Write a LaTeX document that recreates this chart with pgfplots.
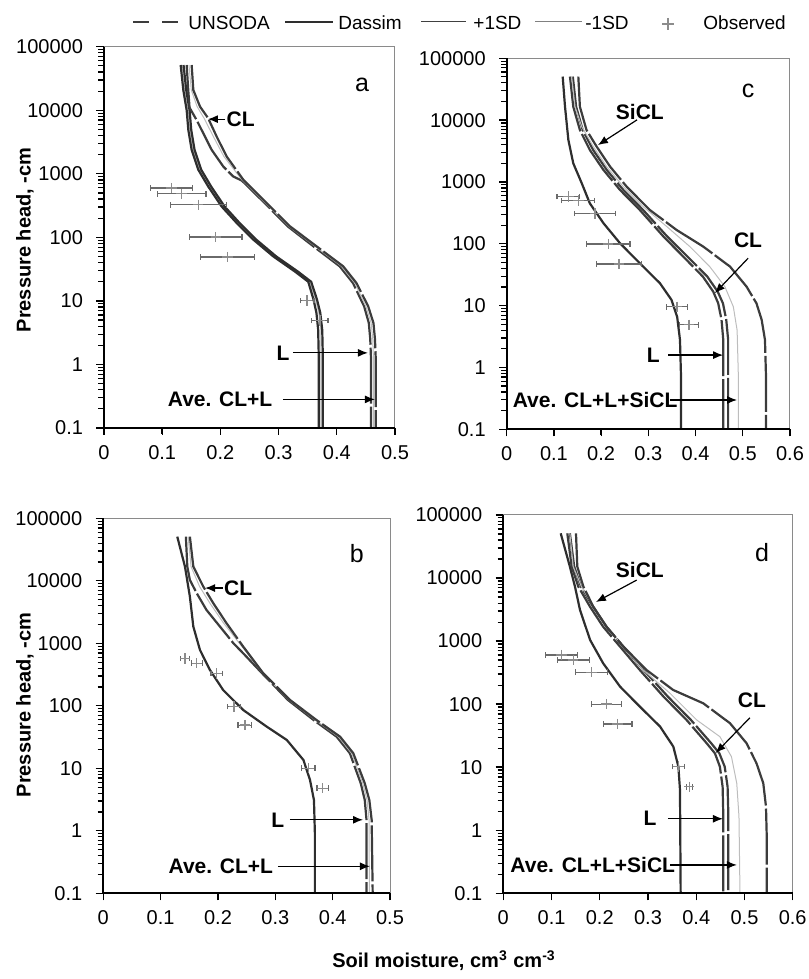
\documentclass[border=0pt]{standalone}
\usepackage{fontspec}
\setmainfont{Liberation Sans}
\usepackage{pgfplots}
\pgfplotsset{compat=1.18}
\usetikzlibrary{arrows.meta}

\definecolor{unsc}{HTML}{3C3C3C}
\definecolor{dasc}{HTML}{2E2E2E}
\definecolor{sdc}{HTML}{BDBDBD}
\definecolor{obsc}{HTML}{8C8C8C}
\definecolor{errc}{HTML}{6A6A6A}
\definecolor{framec}{HTML}{8A8A8A}

\tikzset{
  annlab/.style={font=\bfseries\fontsize{10.5}{12}\selectfont, inner sep=0pt},
  annar/.style={-{Latex[length=5pt,width=4pt]}, line width=0.6pt, black},
  annlet/.style={font=\fontsize{12.5}{14}\selectfont, inner sep=0pt},
}

\pgfplotsset{
  myhalf/.style={xmax=0.5, xtick={0,0.1,0.2,0.3,0.4,0.5},
    xticklabels={0,0.1,0.2,0.3,0.4,0.5}},
  mysix/.style={xmax=0.6, xtick={0,0.1,0.2,0.3,0.4,0.5,0.6},
    xticklabels={0,0.1,0.2,0.3,0.4,0.5,0.6}},
  lineuns/.style={unsc, line width=1.1pt, dash pattern=on 28pt off 1.5pt, mark=none},
  linedas/.style={dasc, line width=1.1pt, mark=none},
  linesd/.style={sdc, line width=0.5pt, mark=none},
  obsmarks/.style={only marks, mark=+, mark size=2.6pt, obsc,
    mark options={line width=0.7pt},
    error bars/x dir=both, error bars/x explicit,
    error bars/error bar style={errc, line width=0.6pt},
    error bars/error mark options={errc, mark size=1.4pt, line width=0.6pt, rotate=90}},
  every axis/.append style={
    scale only axis, xmin=0, ymin=0.1, ymax=100000,
    ytick={0.1,1,10,100,1000,10000,100000},
    yticklabels={0.1,1,10,100,1000,10000,100000},
    tick align=outside, xtick pos=bottom, ytick pos=left,
    major tick length=3.5pt,
    tick style={black, line width=0.6pt},
    axis line style={draw=none},
    ticklabel style={font=\fontsize{10}{12}\selectfont},
    yticklabel style={xshift=-3.5pt},
    xticklabel style={yshift=-1.5pt},
    clip=false,
  },
}

% frame: thin grey top/right, black left/bottom, with the tick marks
\newcommand{\panelframe}[1]{%
  \draw[framec, line width=0.5pt] (rel axis cs:0,1) -- (rel axis cs:1,1) -- (rel axis cs:1,0);
  \draw[black, line width=1pt] (rel axis cs:0,1) -- (rel axis cs:0,0) -- (rel axis cs:1,0);
  \pgfplotsinvokeforeach{0.2,0.3,0.4,0.5,0.6,0.7,0.8,0.9,2,3,4,5,6,7,8,9,20,30,40,50,60,70,80,90,200,300,400,500,600,700,800,900,2000,3000,4000,5000,6000,7000,8000,9000,20000,30000,40000,50000,60000,70000,80000,90000}{%
    \draw[black, line width=0.5pt] ([xshift=-2.4pt]axis cs:0,##1) -- (axis cs:0,##1);}
  \pgfplotsinvokeforeach{0.1,1,10,100,1000,10000,100000}{%
    \draw[black, line width=0.7pt] ([xshift=-3.8pt]axis cs:0,##1) -- (axis cs:0,##1);}
  \pgfplotsinvokeforeach{#1}{%
    \draw[black, line width=0.7pt] ([yshift=-3pt]axis cs:##1,0.1) -- (axis cs:##1,0.1);}}

\begin{document}
\begin{tikzpicture}
\useasboundingbox (0,0) rectangle (404pt,489.5pt);

% ---- panel a
\begin{semilogyaxis}[myhalf, anchor=south west, at={(52pt,275.5pt)}, width=145.5pt, height=190.65pt]
\addplot[linesd] coordinates {(0.1342,51500) (0.1388,20800) (0.1445,10100) (0.1474,4900) (0.1531,2380) (0.1645,1160) (0.1815,633) (0.2045,307) (0.2305,168) (0.2591,92) (0.2935,50) (0.3305,29) (0.3535,20) (0.3635,10.5) (0.3691,6.5) (0.3725,3.5) (0.3725,1.35) (0.3725,0.1)};
\addplot[linedas] coordinates {(0.1317,51500) (0.1363,20800) (0.142,10100) (0.1449,4900) (0.1506,2380) (0.162,1160) (0.179,633) (0.202,307) (0.228,168) (0.2566,92) (0.291,50) (0.328,29) (0.351,20) (0.360,10.5) (0.365,6.5) (0.368,3.5) (0.369,1.35) (0.369,0.1)};
\addplot[linedas] coordinates {(0.1367,51500) (0.1413,20800) (0.147,10100) (0.1499,4900) (0.1556,2380) (0.167,1160) (0.184,633) (0.207,307) (0.233,168) (0.2616,92) (0.296,50) (0.333,29) (0.356,20) (0.366,10.5) (0.3716,6.5) (0.375,3.5) (0.376,1.35) (0.376,0.1)};
\addplot[lineuns] coordinates {(0.142,51500) (0.1449,20000) (0.147,11000) (0.159,7050) (0.1735,3850) (0.185,2380) (0.205,1300) (0.222,908) (0.237,780) (0.277,340) (0.316,148) (0.36,72) (0.405,35) (0.428,19) (0.447,8.2) (0.455,4.5) (0.4575,2.5) (0.4588,1.2) (0.4588,0.1)};
\addplot[linesd] coordinates {(0.146,51500) (0.150,20800) (0.160,11400) (0.172,7480) (0.188,3850) (0.206,1870) (0.237,805) (0.278,343) (0.318,148) (0.363,72) (0.408,35) (0.431,19) (0.450,8.2) (0.459,4.5) (0.4618,2.5) (0.463,1.2) (0.463,0.1)};
\addplot[lineuns] coordinates {(0.1506,51500) (0.1535,20800) (0.165,11400) (0.179,7480) (0.1936,3850) (0.2108,1870) (0.2394,805) (0.2795,346) (0.3196,149) (0.3654,72) (0.411,35) (0.434,19) (0.454,8.2) (0.463,4.5) (0.4656,2.5) (0.467,1.2) (0.467,0.1)};
\addplot[obsmarks] coordinates {(0.1163,596) +- (0.036,0) (0.1334,486) +- (0.042,0) (0.162,326) +- (0.048,0) (0.192,101) +- (0.045,0) (0.212,49) +- (0.046,0) (0.349,10.1) +- (0.012,0) (0.371,4.9) +- (0.014,0)};
\panelframe{0,0.1,0.2,0.3,0.4,0.5}
\node[annlet] at (rel axis cs:0.887,0.9) {a};
\draw[annar] (rel axis cs:0.416,0.81) -- (rel axis cs:0.357,0.81);
\node[annlab, anchor=west] at (rel axis cs:0.42,0.81) {CL};
\node[annlab] at (rel axis cs:0.615,0.197) {L};
\draw[annar] (rel axis cs:0.649,0.197) -- (rel axis cs:0.907,0.197);
\node[annlab] at (rel axis cs:0.399,0.075) {Ave. CL+L};
\draw[annar] (rel axis cs:0.615,0.075) -- (rel axis cs:0.931,0.075);
\end{semilogyaxis}

% ---- panel c
\begin{semilogyaxis}[mysix, anchor=south west, at={(253.35pt,274.85pt)}, width=141.65pt, height=185.5pt]
\addplot[linedas] coordinates {(0.1186,50600) (0.1235,16500) (0.1306,4780) (0.141,2000) (0.159,951) (0.176,452) (0.205,215) (0.24,102) (0.282,48.4) (0.3246,23) (0.349,12.4) (0.361,6.6) (0.367,2.8) (0.369,0.8) (0.369,0.1)};
\addplot[lineuns] coordinates {(0.134,50600) (0.141,16500) (0.155,6930) (0.176,3300) (0.205,1560) (0.24,743) (0.282,352) (0.332,131) (0.374,62) (0.4156,29.4) (0.4375,16.8) (0.448,10.9) (0.455,5.9) (0.4587,2.8) (0.4587,0.1)};
\addplot[lineuns] coordinates {(0.140,50600) (0.147,16500) (0.161,6930) (0.183,3300) (0.212,1560) (0.247,743) (0.289,352) (0.34,131) (0.383,62) (0.425,29.4) (0.447,16.8) (0.458,10.9) (0.465,5.9) (0.469,2.8) (0.469,0.1)};
\addplot[linesd] coordinates {(0.1376,50600) (0.1447,16500) (0.159,7850) (0.1835,3730) (0.2117,1770) (0.247,841) (0.289,399) (0.339,190) (0.388,90) (0.43,42.8) (0.462,20.3) (0.48,9.6) (0.488,4.0) (0.4905,0.8) (0.4905,0.1)};
\addplot[lineuns] coordinates {(0.1517,50600) (0.155,16500) (0.169,6930) (0.1905,3730) (0.219,1770) (0.254,841) (0.303,353) (0.36,167) (0.4164,90) (0.473,42.8) (0.508,20.3) (0.529,10.9) (0.54,5.9) (0.547,2.8) (0.549,0.8) (0.549,0.1)};
\addplot[obsmarks] coordinates {(0.1306,579) +- (0.024,0) (0.1517,499) +- (0.035,0) (0.187,311) +- (0.043,0) (0.215,99) +- (0.046,0) (0.2378,47) +- (0.047,0) (0.361,9.6) +- (0.022,0) (0.386,4.9) +- (0.02,0)};
\panelframe{0,0.1,0.2,0.3,0.4,0.5,0.6}
\node[annlet] at (rel axis cs:0.852,0.912) {c};
\node[annlab] at (rel axis cs:0.47,0.855) {SiCL};
\draw[annar] (rel axis cs:0.46,0.834) -- (rel axis cs:0.322,0.766);
\node[annlab] at (rel axis cs:0.852,0.51) {CL};
\draw[annar] (rel axis cs:0.852,0.461) -- (rel axis cs:0.735,0.367);
\node[annlab] at (rel axis cs:0.517,0.2) {L};
\draw[annar] (rel axis cs:0.57,0.2) -- (rel axis cs:0.764,0.2);
\node[annlab] at (rel axis cs:0.312,0.079) {Ave. CL+L+SiCL};
\draw[annar] (rel axis cs:0.577,0.079) -- (rel axis cs:0.813,0.079);
\end{semilogyaxis}

% ---- panel b
\begin{semilogyaxis}[myhalf, anchor=south west, at={(51.65pt,42.85pt)}, width=143.35pt, height=187.5pt]
\addplot[linedas] coordinates {(0.129,50900) (0.1424,16900) (0.151,5580) (0.157,1850) (0.1686,782) (0.186,374) (0.209,179) (0.244,85.7) (0.285,46.4) (0.32,28.4) (0.349,13.6) (0.3605,6.5) (0.3674,3.1) (0.369,0.91) (0.369,0.1)};
\addplot[lineuns] coordinates {(0.144,50900) (0.1465,16900) (0.151,10300) (0.163,6310) (0.18,3410) (0.2035,1850) (0.227,1000) (0.244,692) (0.277,331) (0.322,124) (0.367,59) (0.407,32) (0.43,17.4) (0.449,5.76) (0.456,3.1) (0.459,1.5) (0.459,0.1)};
\addplot[linesd] coordinates {(0.148,50900) (0.153,16900) (0.168,8070) (0.186,4370) (0.210,2090) (0.242,885) (0.278,331) (0.324,124) (0.37,59) (0.41,32) (0.433,17.4) (0.4525,5.76) (0.46,3.1) (0.4635,1.5) (0.464,0.1)};
\addplot[lineuns] coordinates {(0.151,50900) (0.157,16900) (0.1744,8070) (0.1919,4370) (0.215,2090) (0.244,885) (0.279,331) (0.3256,124) (0.372,59) (0.413,32) (0.436,17.4) (0.456,5.76) (0.464,3.1) (0.468,1.5) (0.4698,0.1)};
\addplot[obsmarks] coordinates {(0.1424,575) +- (0.008,0) (0.163,479) +- (0.0095,0) (0.1977,331) +- (0.01,0) (0.228,97) +- (0.011,0) (0.247,49) +- (0.012,0) (0.3576,10) +- (0.0115,0) (0.3826,4.8) +- (0.01,0)};
\panelframe{0,0.1,0.2,0.3,0.4,0.5}
\node[annlet] at (rel axis cs:0.884,0.907) {b};
\draw[annar] (rel axis cs:0.4175,0.814) -- (rel axis cs:0.355,0.814);
\node[annlab, anchor=west] at (rel axis cs:0.42,0.814) {CL};
\node[annlab] at (rel axis cs:0.609,0.196) {L};
\draw[annar] (rel axis cs:0.651,0.196) -- (rel axis cs:0.906,0.196);
\node[annlab] at (rel axis cs:0.41,0.072) {Ave. CL+L};
\draw[annar] (rel axis cs:0.609,0.072) -- (rel axis cs:0.93,0.072);
\end{semilogyaxis}

% ---- panel d
\begin{semilogyaxis}[mysix, anchor=south west, at={(251.65pt,42.85pt)}, width=144.7pt, height=189.15pt]
\addplot[linedas] coordinates {(0.119,51200) (0.138,15200) (0.1486,7310) (0.159,3120) (0.18,1040) (0.207,445) (0.242,190) (0.283,91.4) (0.325,44.1) (0.3525,21.2) (0.363,10.2) (0.3663,4.37) (0.3677,0.1)};
\addplot[lineuns] coordinates {(0.1327,51200) (0.1417,15200) (0.1555,7310) (0.1797,3520) (0.207,1690) (0.242,817) (0.283,348) (0.332,132) (0.38,56.1) (0.4216,24) (0.4388,16.6) (0.449,10.2) (0.4547,4.9) (0.456,1.86) (0.456,0.1)};
\addplot[lineuns] coordinates {(0.138,51200) (0.147,15200) (0.161,7310) (0.186,3520) (0.214,1690) (0.249,817) (0.291,348) (0.341,132) (0.389,56.1) (0.431,24) (0.448,16.6) (0.459,10.2) (0.465,4.9) (0.4665,1.86) (0.4665,0.1)};
\addplot[linesd] coordinates {(0.138,51200) (0.145,15200) (0.162,7310) (0.1866,3520) (0.214,1690) (0.249,817) (0.29,348) (0.3455,149) (0.401,56.1) (0.449,30.5) (0.473,14.7) (0.484,5.56) (0.4886,1.65) (0.4907,0.1)};
\addplot[lineuns] coordinates {(0.1507,51200) (0.1534,15200) (0.166,7310) (0.1866,3520) (0.214,1690) (0.249,817) (0.297,348) (0.352,168) (0.4147,103) (0.47,49.8) (0.5045,23.9) (0.525,11.5) (0.539,5.56) (0.5446,2.37) (0.546,0.9) (0.546,0.1)};
\addplot[obsmarks] coordinates {(0.121,603) +- (0.033,0) (0.145,500) +- (0.033,0) (0.183,320) +- (0.033,0) (0.214,100) +- (0.031,0) (0.237,48.5) +- (0.03,0) (0.363,10.2) +- (0.012,0) (0.3856,4.9) +- (0.006,0)};
\panelframe{0,0.1,0.2,0.3,0.4,0.5,0.6}
\node[annlet] at (rel axis cs:0.894,0.9) {d};
\node[annlab] at (rel axis cs:0.472,0.855) {SiCL};
\draw[annar] (rel axis cs:0.461,0.828) -- (rel axis cs:0.32,0.77);
\node[annlab] at (rel axis cs:0.859,0.511) {CL};
\draw[annar] (rel axis cs:0.852,0.464) -- (rel axis cs:0.734,0.371);
\node[annlab] at (rel axis cs:0.507,0.197) {L};
\draw[annar] (rel axis cs:0.569,0.197) -- (rel axis cs:0.759,0.197);
\node[annlab] at (rel axis cs:0.309,0.075) {Ave. CL+L+SiCL};
\draw[annar] (rel axis cs:0.576,0.075) -- (rel axis cs:0.807,0.075);
\end{semilogyaxis}

% ---- axis titles and legend (original pixel grid, y downwards)
\begin{scope}[x=0.5pt, y=-0.5pt, shift={(0pt,489.5pt)}]
\node[annlab, font=\bfseries\fontsize{10}{12}\selectfont, rotate=90] at (25,240) {Pressure head, -cm};
\node[annlab, font=\bfseries\fontsize{10}{12}\selectfont, rotate=90] at (25,705) {Pressure head, -cm};
\node[annlab, font=\bfseries\fontsize{10}{12}\selectfont] at (444,961) {Soil moisture, cm\textsuperscript{3} cm\textsuperscript{-3}};
\begin{scope}[every node/.style={anchor=west, inner sep=0pt, font=\fontsize{9.5}{11}\selectfont}]
\draw[unsc, line width=1.4pt] (133,22) -- (149,22) (162,22) -- (178,22);
\node at (188,23) {UNSODA};
\draw[dasc, line width=1.4pt] (285,22) -- (333,22);
\node at (338,23) {Dassim};
\draw[darkgray, line width=0.5pt] (421,22) -- (466,22);
\node at (473,23) {+1SD};
\draw[gray, line width=0.5pt] (535,22) -- (582,22);
\node at (585,23) {-1SD};
\draw[obsc, line width=0.6pt] (662,24) -- (674,24) (668,18) -- (668,30);
\node at (703,23) {Observed};
\end{scope}
\end{scope}
\end{tikzpicture}
\end{document}
